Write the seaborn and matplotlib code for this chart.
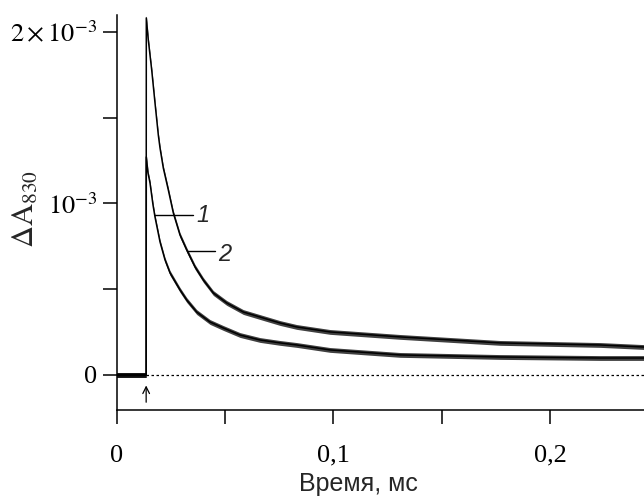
import matplotlib
matplotlib.use("Agg")
import matplotlib.pyplot as plt
import seaborn as sns

# --- Data (time in ms, dA in units of 1e-3) ---
t_curve2 = [0.0, 0.0136, 0.01367, 0.01459, 0.01616, 0.01768, 0.01921, 0.01999,
            0.02151, 0.02382, 0.02613, 0.02922, 0.03232, 0.03615, 0.03998,
            0.04460, 0.05078, 0.05845, 0.06768, 0.07539, 0.08310, 0.09847,
            0.1308, 0.1770, 0.2232, 0.2434]
dA_curve2 = [0.0, 0.0, 2.082, 1.953, 1.778, 1.586, 1.399, 1.324,
             1.207, 1.079, 0.945, 0.816, 0.729, 0.630, 0.554,
             0.478, 0.420, 0.367, 0.332, 0.303, 0.280, 0.251,
             0.222, 0.187, 0.175, 0.163]

t_curve1 = [0.0, 0.0136, 0.01367, 0.01445, 0.01537, 0.01676, 0.01768, 0.01999,
            0.02230, 0.02461, 0.02922, 0.03232, 0.03693, 0.04307, 0.04922,
            0.05692, 0.06616, 0.07539, 0.08310, 0.09847, 0.1308, 0.1770,
            0.2232, 0.2434]
dA_curve1 = [0.0, 0.0, 1.271, 1.178, 1.120, 0.991, 0.921, 0.776,
             0.671, 0.595, 0.496, 0.437, 0.367, 0.309, 0.274,
             0.233, 0.204, 0.187, 0.175, 0.146, 0.117, 0.105,
             0.099, 0.099]

x_ticks = [0, 0.05, 0.1, 0.15, 0.2]
x_labels = ["0", "", "0,1", "", "0,2"]
y_ticks = [0, 0.5, 1.0, 1.5, 2.0]
y_labels = ["0", "", r"$10^{-3}$", "", r"$2\times10^{-3}$"]

flash_t = 0.0136

sns.set_theme(style="ticks")
plt.rcParams["font.family"] = ["Liberation Serif", "DejaVu Serif"]
plt.rcParams["mathtext.fontset"] = "stix"

fig = plt.figure(figsize=(6.44, 4.97), dpi=100)
ax = fig.add_axes([0.1812, 0.1751, 0.8188, 0.7948])

# noise band around each trace
band = 0.014
for t, dA in [(t_curve1, dA_curve1), (t_curve2, dA_curve2)]:
    ax.fill_between(t, [v - band for v in dA], [v + band for v in dA],
                    color="black", alpha=0.75, linewidth=0)
    sns.lineplot(x=t, y=dA, ax=ax, color="black", linewidth=1.1,
                 sort=False, estimator=None)

# zero line after the flash
ax.plot([flash_t, 0.2434], [0, 0], color="black", linewidth=0.9,
        linestyle=(0, (2, 2)))

# flash arrow
ax.annotate("", xy=(flash_t, -0.045), xytext=(flash_t, -0.175),
            arrowprops=dict(arrowstyle="->", color="black", lw=0.9))

# curve labels with leaders
ax.plot([0.0175, 0.0353], [0.93, 0.93], color="black", linewidth=1.0)
ax.text(0.0370, 0.93, "1", fontsize=17, style="italic",
        family="Liberation Sans", va="center", ha="left")
ax.plot([0.0330, 0.0455], [0.72, 0.72], color="black", linewidth=1.0)
ax.text(0.0470, 0.70, "2", fontsize=17, style="italic",
        family="Liberation Sans", va="center", ha="left")

ax.set_xlim(0, 0.2434)
ax.set_ylim(-0.204, 2.099)
ax.set_xticks(x_ticks)
ax.set_xticklabels(x_labels)
ax.set_yticks(y_ticks)
ax.set_yticklabels(y_labels)
ax.tick_params(axis="both", direction="out", length=10, width=1.1,
               labelsize=19, colors="black")
ax.tick_params(axis="x", pad=15)
ax.tick_params(axis="y", pad=4)
for s in ["top", "right"]:
    ax.spines[s].set_visible(False)
for s in ["left", "bottom"]:
    ax.spines[s].set_linewidth(1.1)
    ax.spines[s].set_color("black")
ax.set_xlabel("")
ax.set_ylabel("")

fig.text(0.556, 0.002, "Время, мс", fontsize=18, family="Liberation Sans",
         ha="center", va="bottom")
fig.text(0.040, 0.58, r"$\Delta\mathrm{A}_{830}$", fontsize=22,
         rotation=90, ha="center", va="center")

fig.savefig("out.png", dpi=100)
